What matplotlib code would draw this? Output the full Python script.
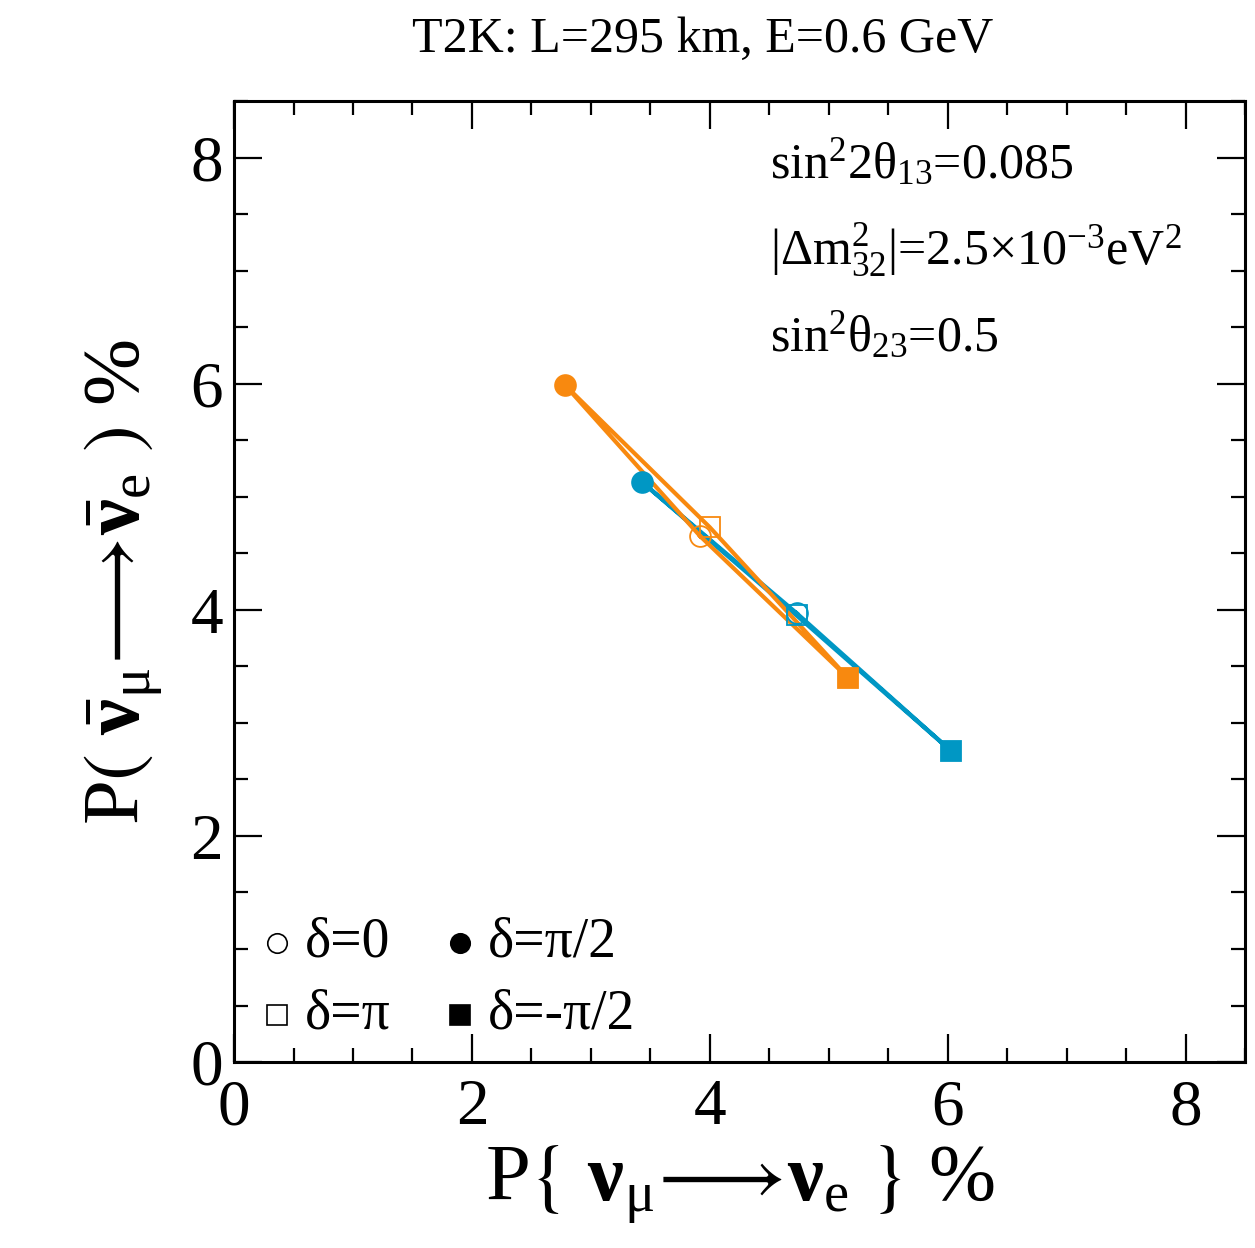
import matplotlib
matplotlib.use('Agg')
import matplotlib.pyplot as plt
from matplotlib.ticker import MultipleLocator

plt.rcParams['font.family'] = ['Liberation Serif', 'DejaVu Serif']
plt.rcParams['mathtext.fontset'] = 'custom'
plt.rcParams['mathtext.rm'] = 'Liberation Serif'
plt.rcParams['mathtext.it'] = 'Liberation Serif:italic'
plt.rcParams['mathtext.bf'] = 'Liberation Serif:bold'
plt.rcParams['mathtext.fallback'] = 'stix'

# delta order: 0, pi/2, pi, -pi/2 (closed ellipse)
deltas = ['0', 'pi/2', 'pi', '-pi/2']
# normal hierarchy (blue)
p_nu_blue = [4.73, 3.43, 4.73, 6.03]
p_nubar_blue = [3.97, 5.13, 3.95, 2.75]
# inverted hierarchy (orange)
p_nu_orange = [3.92, 2.78, 4.00, 5.16]
p_nubar_orange = [4.65, 5.99, 4.73, 3.40]

blue = '#0097c4'
orange = '#f8890f'

fig = plt.figure(figsize=(12.55, 12.48), dpi=100)
ax = fig.add_axes([0.1865, 0.149, 0.8056, 0.770])


def draw_ellipse(xs, ys, color):
    ax.plot(xs + xs[:1], ys + ys[:1], color=color, lw=3.0, zorder=2)
    styles = [('o', 'none'), ('o', color), ('s', 'none'), ('s', color)]
    for (m, fc), x, y in zip(styles, xs, ys):
        ax.plot(x, y, marker=m, ms=15, mfc=fc, mec=color, mew=1.3, zorder=3)


draw_ellipse(p_nu_blue, p_nubar_blue, blue)
draw_ellipse(p_nu_orange, p_nubar_orange, orange)

ax.set_xlim(0, 8.5)
ax.set_ylim(0, 8.5)
ax.xaxis.set_major_locator(MultipleLocator(2))
ax.yaxis.set_major_locator(MultipleLocator(2))
ax.xaxis.set_minor_locator(MultipleLocator(0.5))
ax.yaxis.set_minor_locator(MultipleLocator(0.5))
ax.tick_params(which='both', direction='in', top=True, right=True, width=1.6)
ax.tick_params(which='major', length=20, labelsize=47, pad=12)
ax.tick_params(axis='y', which='major', pad=8)
ax.tick_params(which='minor', length=10)
for s in ax.spines.values():
    s.set_linewidth(2.2)

ax.set_xlabel(r'P$\left\{\ \mathbf{\nu}_{\mathrm{\mu}}\!\longrightarrow\!\mathbf{\nu}_{\mathrm{e}}\ \right\}$ %',
              fontsize=58, labelpad=4)
ax.set_ylabel(r'P$\left(\ \bar{\mathbf{\nu}}_{\mathrm{\mu}}\!\longrightarrow\!\bar{\mathbf{\nu}}_{\mathrm{e}}\ \right)$ %',
              fontsize=58, labelpad=18)

fig.text(703 / 1255, 1 - 40 / 1248, 'T2K: L=295 km, E=0.6 GeV', fontsize=36,
         ha='center', va='center')

params = [r'sin$^{\mathrm{2}}$2θ$_{\mathrm{13}}$=0.085',
          r'|Δm$^{\mathrm{2}}_{\mathrm{32}}$|=2.5×10$^{\mathrm{-3}}$eV$^{\mathrm{2}}$',
          r'sin$^{\mathrm{2}}$θ$_{\mathrm{23}}$=0.5']
for i, t in enumerate(params):
    ax.text(0.530, 0.935 - i * 0.090, t, transform=ax.transAxes, fontsize=36,
            ha='left', va='center')

# legend drawn by hand in axes coordinates
leg_markers = [('o', 'none'), ('s', 'none'), ('o', 'k'), ('s', 'k')]
leg_labels = ['δ=0', 'δ=π', 'δ=π/2', 'δ=-π/2']
leg_x = [0.0425, 0.0425, 0.2235, 0.2235]
leg_y = [0.124, 0.049, 0.124, 0.049]
for (m, fc), lab, lx, ly in zip(leg_markers, leg_labels, leg_x, leg_y):
    ax.plot(lx, ly, marker=m, ms=14, mfc=fc, mec='k', mew=1.2,
            transform=ax.transAxes, clip_on=False)
    ax.text(lx + 0.028, ly, lab, transform=ax.transAxes, fontsize=40,
            ha='left', va='center')

fig.savefig('out.png', dpi=100)
